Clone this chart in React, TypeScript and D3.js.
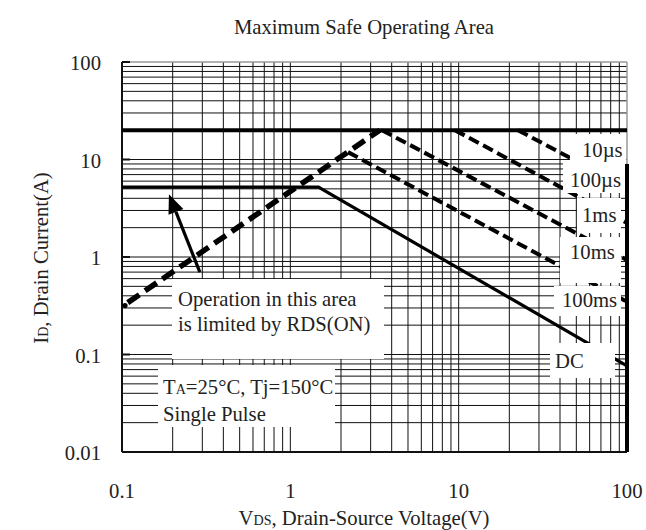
import React from 'react';
import * as d3 from 'd3';

// ---- data ----
const xTickValues = [0.1, 1, 10, 100];
const xTickLabels = ['0.1', '1', '10', '100'];
const yTickValues = [0.01, 0.1, 1, 10, 100];
const yTickLabels = ['0.01', '0.1', '1', '10', '100'];

const idmV = [0.1, 100];
const idmI = [20, 20];
const dcV = [0.1, 1.47, 100];
const dcI = [5.2, 5.2, 0.0764];
const rdsV = [0.1, 3.4];
const rdsI = [0.31, 20];
const pulseNames = ['10µs', '100µs', '1ms', '10ms'];
const pulseStartV = [22.5, 9.5, 3.5, 2.2];
const pulseStartI = [20, 20, 20, 11.9];
const pulseEndV = [100, 100, 100, 100];
const pulseEndI = [5.1, 2.23, 0.93, 0.347];
const bvV = [100, 100];
const bvI = [9.0, 0.01];
const arrowV = [0.29, 0.19];
const arrowI = [0.7, 4.4];
const curveLabels = ['10µs', '100µs', '1ms', '10ms', '100ms', 'DC'];

// ---- layout ----
const W = 646, H = 530;
const PL = 122, PR = 627, PT = 62, PB = 452;
const FONT = '"Liberation Serif", "Times New Roman", serif';
const FS = 22;
const SX = 0.94;
const labelLayout = [
  { x: 570, y: 134, w: 56, h: 29, tx: 582, ty: 157 },
  { x: 563, y: 163, w: 63, h: 30, tx: 570, ty: 187 },
  { x: 577, y: 198, w: 44, h: 35, tx: 582, ty: 222 },
  { x: 560, y: 237, w: 61, h: 46, tx: 570, ty: 259 },
  { x: 554, y: 286, w: 67, h: 30, tx: 562, ty: 307 },
  { x: 550, y: 343, w: 65, h: 35, tx: 555, ty: 368 },
];

function T({ x, y, anchor, rotate, children }: { x: number; y: number; anchor?: string; rotate?: number; children: React.ReactNode }) {
  const tr = `translate(${x},${y})${rotate ? ` rotate(${rotate})` : ''} scale(${SX},1)`;
  return (
    <text transform={tr} textAnchor={anchor || 'start'} fontSize={FS}>{children}</text>
  );
}

export default function App() {
  const x = d3.scaleLog().domain([0.1, 100]).range([PL, PR]);
  const y = d3.scaleLog().domain([0.01, 100]).range([PB, PT]);
  const line = d3.line<[number, number]>().x(d => x(d[0])).y(d => y(d[1]));
  const pts = (vs: number[], is: number[]) => vs.map((v, i) => [v, is[i]] as [number, number]);

  const xg = x.ticks().filter(v => v > 0.1 + 1e-9 && v < 100 - 1e-9);
  const yg = y.ticks().filter(v => v > 0.01 + 1e-9 && v < 100 - 1e-9);

  // arrow geometry
  const ax0 = x(arrowV[0]), ay0 = y(arrowI[0]);
  const ax1 = x(arrowV[1]), ay1 = y(arrowI[1]);
  const ang = Math.atan2(ay1 - ay0, ax1 - ax0);
  const hl = 19, hw = 8;
  const bx = ax1 - hl * Math.cos(ang), by = ay1 - hl * Math.sin(ang);
  const head = [
    [ax1, ay1],
    [bx + hw * Math.sin(ang), by - hw * Math.cos(ang)],
    [bx - hw * Math.sin(ang), by + hw * Math.cos(ang)],
  ].map(p => p.join(',')).join(' ');

  const sub = 15;

  return (
    <svg width={W} height={H} style={{ position: 'absolute', left: 0, top: 0, background: '#fff' }}
      fontFamily={FONT} fill="#222">
      <rect x={0} y={0} width={W} height={H} fill="#fff" />
      {/* grid */}
      <g stroke="#111" strokeWidth={1}>
        {xg.map((v, i) => <line key={'xg' + i} x1={x(v)} x2={x(v)} y1={PT} y2={PB} />)}
        {yg.map((v, i) => <line key={'yg' + i} x1={PL} x2={PR} y1={y(v)} y2={y(v)} />)}
      </g>
      {/* border */}
      <line x1={PL} x2={PR} y1={PT} y2={PT} stroke="#999" strokeWidth={1.5} />
      <line x1={PR} x2={PR} y1={PT} y2={PB} stroke="#999" strokeWidth={1.5} />
      <line x1={PL} x2={PL} y1={PT} y2={PB} stroke="#111" strokeWidth={2} />
      <line x1={PL} x2={PR} y1={PB} y2={PB} stroke="#111" strokeWidth={2} />
      {yTickValues.map((v, i) => (
        <line key={'yt' + i} x1={PL} x2={PL + 8} y1={y(v)} y2={y(v)} stroke="#111" strokeWidth={2} />
      ))}

      {/* curves */}
      <path d={line(pts(idmV, idmI)) || ''} fill="none" stroke="#000" strokeWidth={4} />
      <path d={line(pts(dcV, dcI)) || ''} fill="none" stroke="#000" strokeWidth={3.2} />
      <path d={line(pts(rdsV, rdsI)) || ''} fill="none" stroke="#000" strokeWidth={5.5}
        strokeDasharray="0,7,14,7,14,7,14,7,14,7,14,7,14,7,14,7,14,7,14,7,14,7,14,7,14,7,14,7,14,7,14,7,14,7" />
      <circle cx={x(rdsV[0]) + 3} cy={y(rdsI[0]) - 1} r={2.6} fill="#000" />
      {pulseNames.map((n, i) => (
        <path key={n} d={line([[pulseStartV[i], pulseStartI[i]], [pulseEndV[i], pulseEndI[i]]]) || ''}
          fill="none" stroke="#000" strokeWidth={4} strokeDasharray="11,5" />
      ))}
      {/* arrow */}
      <line x1={ax0} y1={ay0} x2={bx} y2={by} stroke="#000" strokeWidth={3.2} />
      <polygon points={head} fill="#000" />

      {/* annotation boxes */}
      <rect x={172} y={279} width={212} height={80} fill="#fff" />
      <rect x={158} y={365} width={177} height={62} fill="#fff" />
      {labelLayout.map((b, i) => (
        <rect key={'lb' + i} x={b.x} y={b.y} width={b.w} height={b.h} fill="#fff" />
      ))}
      <path d={line(pts(bvV, bvI)) || ''} fill="none" stroke="#000" strokeWidth={4} />

      {/* texts */}
      <g fill="#222">
        {labelLayout.map((b, i) => (
          <T key={'lt' + i} x={b.tx} y={b.ty}>{curveLabels[i]}</T>
        ))}
        <T x={178} y={306}>Operation in this area</T>
        <T x={178} y={331}>is limited by RDS(ON)</T>
        <T x={163} y={394}>T<tspan fontSize={sub}>A</tspan>=25°C, Tj=150°C</T>
        <T x={163} y={421}>Single Pulse</T>
        <T x={364} y={34} anchor="middle">Maximum Safe Operating Area</T>
        {yTickValues.map((v, i) => (
          <T key={'yl' + i} x={101} y={y(v) + 8} anchor="end">{yTickLabels[i]}</T>
        ))}
        {xTickValues.map((v, i) => (
          <T key={'xl' + i} x={x(v)} y={498} anchor="middle">{xTickLabels[i]}</T>
        ))}
        <T x={364} y={525} anchor="middle">V<tspan fontSize={sub}>DS</tspan>, Drain-Source Voltage(V)</T>
        <T x={48} y={258} anchor="middle" rotate={-90}>I<tspan fontSize={sub}>D</tspan>, Drain Current(A)</T>
      </g>
    </svg>
  );
}
